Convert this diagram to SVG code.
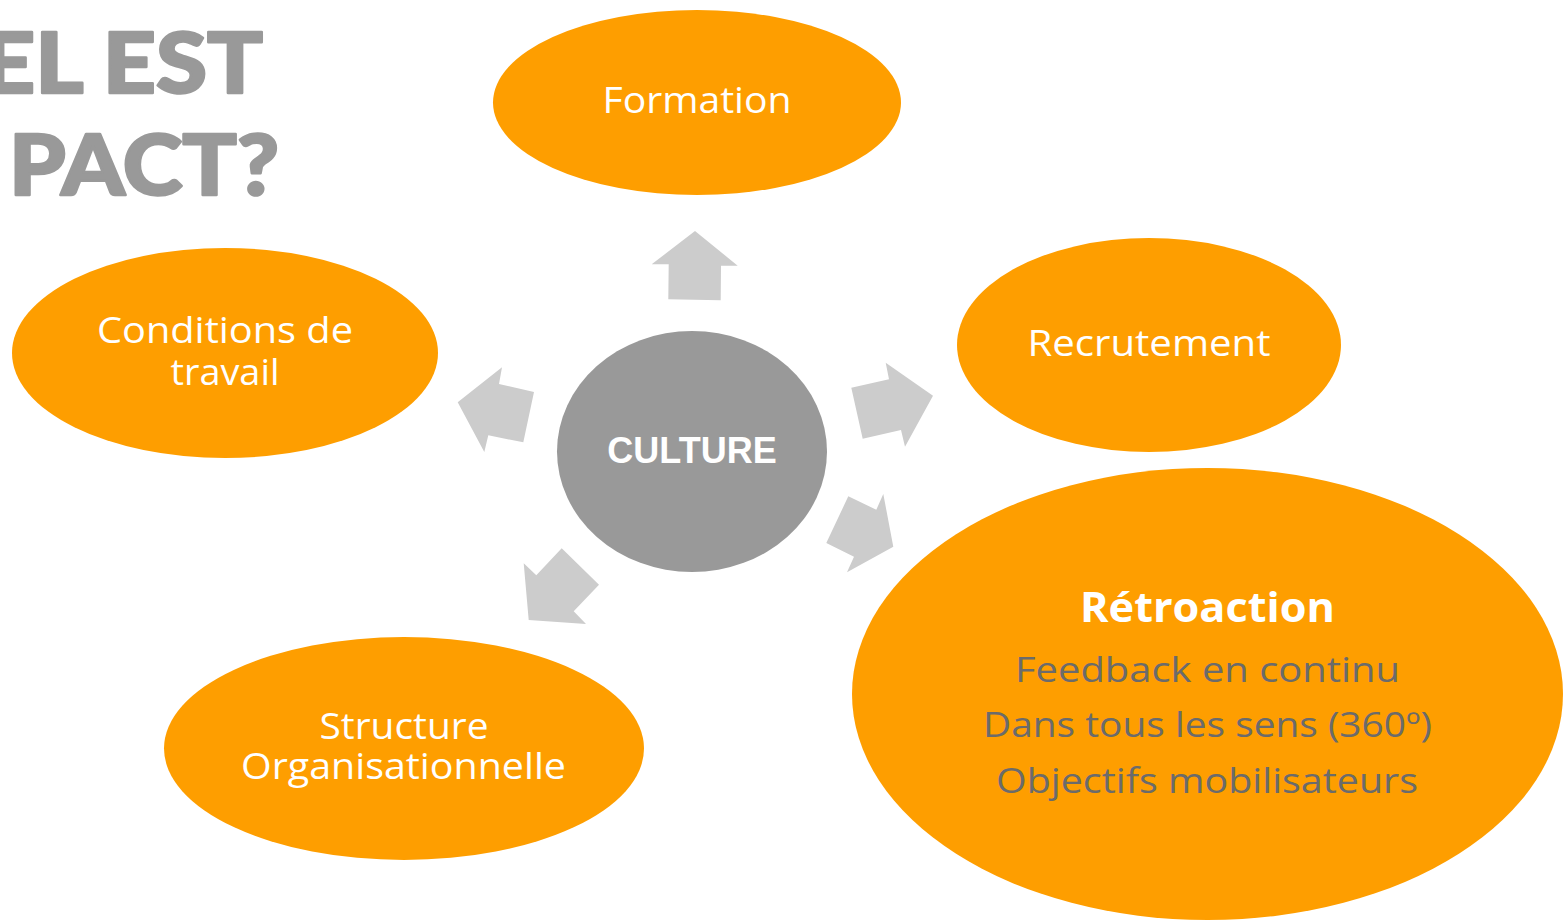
<svg xmlns="http://www.w3.org/2000/svg" width="1565" height="920" viewBox="0 0 1565 920">
<style>
.node{fill:#FE9E00}
.lbl{font-family:"Open Sans","Noto Sans",sans-serif;font-size:37px;fill:#FFFFFF;text-anchor:middle}
.sub{font-family:"Open Sans","Noto Sans",sans-serif;font-size:35px;fill:#6B6B6B;text-anchor:middle}
.bold{font-family:"Open Sans","Noto Sans",sans-serif;font-size:42px;font-weight:700;fill:#FFFFFF;text-anchor:middle}
.title{font-family:Lato,"Open Sans",sans-serif;font-size:84px;font-weight:900;fill:#999999;stroke:#999999;stroke-width:2.5;stroke-linejoin:round}
.arrow{fill:#CCCCCC}
</style>
<rect width="1565" height="920" fill="#FFFFFF"/>
<g id="title">
<text class="title" x="-18" y="93" textLength="281" lengthAdjust="spacingAndGlyphs">EL EST</text>
<text class="title" x="9" y="195" textLength="270" lengthAdjust="spacingAndGlyphs">PACT?</text>
</g>
<g id="connectors">
<polygon class="arrow" points="695,231 737.7,265.7 721,265.7 720.7,300.3 668.3,299.3 668.7,264.3 651.7,264.3"/>
<polygon class="arrow" points="457.7,402.3 502,367.3 499,384 534,392 523.3,442.3 488.3,435.3 484.3,452"/>
<polygon class="arrow" points="851.3,387.7 889,379.3 885.7,362.7 933,395.7 905,446.7 901,430 862.7,438.7"/>
<polygon class="arrow" points="848.3,496.3 876.3,509.7 883.3,494 893.3,546.7 847,572.3 854,556.7 826.3,543"/>
<polygon class="arrow" points="523.7,563.3 536.3,575.3 561.7,548.3 599,584.7 573.7,611.3 586,624 528.7,620"/>
</g>
<g id="culture">
<ellipse cx="692" cy="451.5" rx="135" ry="120.5" fill="#999999"/>
<text x="692" y="463" font-family="'Liberation Sans',Arial,sans-serif" font-size="36" font-weight="700" fill="#FFFFFF" text-anchor="middle">CULTURE</text>
</g>
<g id="formation">
<ellipse class="node" cx="697" cy="102.5" rx="204" ry="92.5"/>
<text class="lbl" x="697" y="113" textLength="189" lengthAdjust="spacingAndGlyphs">Formation</text>
</g>
<g id="conditions">
<ellipse class="node" cx="225" cy="353" rx="213" ry="105"/>
<text class="lbl" x="225" y="342.5" textLength="256" lengthAdjust="spacingAndGlyphs">Conditions de</text>
<text class="lbl" x="225" y="384.5" textLength="109" lengthAdjust="spacingAndGlyphs">travail</text>
</g>
<g id="recrutement">
<ellipse class="node" cx="1149" cy="345" rx="192" ry="107"/>
<text class="lbl" x="1149" y="356" textLength="243" lengthAdjust="spacingAndGlyphs">Recrutement</text>
</g>
<g id="structure">
<ellipse class="node" cx="404" cy="748.5" rx="240" ry="111.5"/>
<text class="lbl" x="404" y="738.5" textLength="169" lengthAdjust="spacingAndGlyphs">Structure</text>
<text class="lbl" x="403.5" y="778.5" textLength="325" lengthAdjust="spacingAndGlyphs">Organisationnelle</text>
</g>
<g id="retroaction">
<ellipse class="node" cx="1207.5" cy="694" rx="355.5" ry="226"/>
<text class="bold" x="1207.5" y="621.5" textLength="255" lengthAdjust="spacingAndGlyphs">Rétroaction</text>
<text class="sub" x="1207.5" y="681.5" textLength="385" lengthAdjust="spacingAndGlyphs">Feedback en continu</text>
<text class="sub" x="1207.5" y="737" textLength="449" lengthAdjust="spacingAndGlyphs">Dans tous les sens (360º)</text>
<text class="sub" x="1207" y="793" textLength="422" lengthAdjust="spacingAndGlyphs">Objectifs mobilisateurs</text>
</g>
</svg>
